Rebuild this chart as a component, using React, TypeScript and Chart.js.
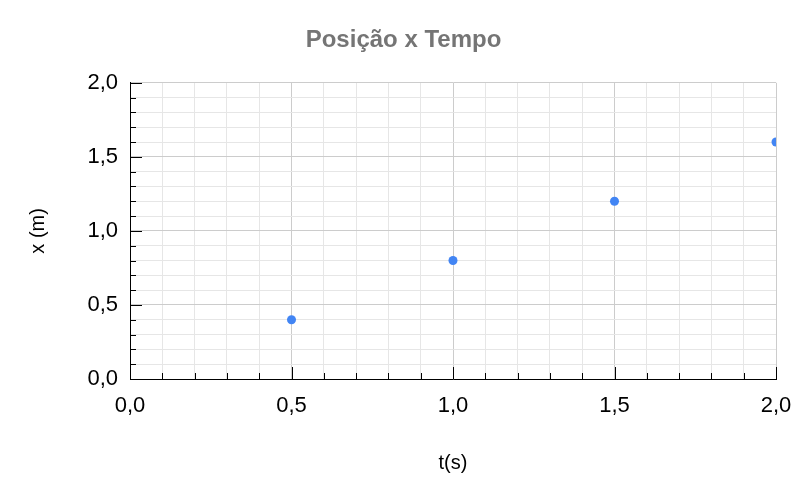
import React, { useEffect, useRef } from "react";
import { Chart, registerables } from "chart.js";

Chart.register(...registerables);

const tempo = [0.5, 1.0, 1.5, 2.0];
const posicao = [0.4, 0.8, 1.2, 1.6];
const axisMin = 0;
const axisMax = 2;
const minorStep = 0.1;
const majorStep = 0.5;

const fmt = (v: number) => v.toFixed(1).replace(".", ",");
const isMajor = (v: number) => Math.abs(v / majorStep - Math.round(v / majorStep)) < 1e-6;

const innerTicks = {
  id: "innerTicks",
  afterDraw(chart: any) {
    const { ctx, chartArea, scales } = chart;
    ctx.save();
    ctx.strokeStyle = "#000";
    ctx.lineWidth = 1;
    const xs = scales.x;
    const ys = scales.y;
    xs.ticks.forEach((t: any) => {
      const px = Math.round(xs.getPixelForValue(t.value)) + 0.5;
      const len = isMajor(t.value) ? 12 : 6;
      ctx.beginPath();
      ctx.moveTo(px, chartArea.bottom);
      ctx.lineTo(px, chartArea.bottom - len);
      ctx.stroke();
    });
    ys.ticks.forEach((t: any) => {
      const py = Math.round(ys.getPixelForValue(t.value)) + 0.5;
      const len = isMajor(t.value) ? 12 : 6;
      ctx.beginPath();
      ctx.moveTo(chartArea.left, py);
      ctx.lineTo(chartArea.left + len, py);
      ctx.stroke();
    });
    ctx.restore();
  },
};

export default function App() {
  const ref = useRef<HTMLCanvasElement>(null);
  useEffect(() => {
    if (!ref.current) return;
    const font = "'Liberation Sans', Arial, sans-serif";
    const gridColor = (c: any) => (isMajor(c.tick.value) ? "#cccccc" : "#e6e6e6");
    const chart = new Chart(ref.current, {
      type: "scatter",
      data: {
        datasets: [
          {
            label: "x(t)",
            data: tempo.map((t, i) => ({ x: t, y: posicao[i] })),
            backgroundColor: "#4285f4",
            borderColor: "#4285f4",
            borderWidth: 0,
            pointRadius: 4.5,
          },
        ],
      },
      options: {
        animation: false,
        responsive: false,
        layout: { padding: 0 },
        plugins: {
          legend: { display: false },
          tooltip: { enabled: false },
          title: {
            display: true,
            text: "Posição x Tempo",
            color: "#757575",
            font: { family: font, size: 24, weight: "bold" },
            padding: { top: 26, bottom: 28 },
          },
        },
        scales: {
          x: {
            type: "linear",
            min: axisMin,
            max: axisMax,
            afterFit: (s: any) => {
              s.height = 120;
            },
            ticks: {
              stepSize: minorStep,
              autoSkip: false,
              maxRotation: 0,
              padding: 14,
              color: "#000",
              font: { family: font, size: 22 },
              callback: (v: any) => (isMajor(Number(v)) ? fmt(Number(v)) : ""),
            },
            grid: { color: gridColor, drawTicks: false, lineWidth: 1 },
            border: { color: "#000", width: 1 },
            title: {
              display: true,
              text: "t(s)",
              color: "#000",
              font: { family: font, size: 20 },
              padding: { top: 0, bottom: 24 },
            },
          },
          y: {
            type: "linear",
            min: axisMin,
            max: axisMax,
            afterFit: (s: any) => {
              s.width = 130;
            },
            ticks: {
              stepSize: minorStep,
              autoSkip: false,
              padding: 12,
              color: "#000",
              font: { family: font, size: 22 },
              callback: (v: any) => (isMajor(Number(v)) ? fmt(Number(v)) : ""),
            },
            grid: { color: gridColor, drawTicks: false, lineWidth: 1 },
            border: { color: "#000", width: 1 },
            title: {
              display: true,
              text: "x (m)",
              color: "#000",
              font: { family: font, size: 20 },
              padding: { top: 26, bottom: 0 },
            },
          },
          spacer: {
            type: "linear",
            position: "right",
            display: true,
            min: axisMin,
            max: axisMax,
            afterFit: (s: any) => {
              s.width = 31;
            },
            ticks: { display: false },
            grid: { display: false, drawTicks: false },
            border: { display: false },
          },
        },
      },
      plugins: [innerTicks],
    });
    return () => chart.destroy();
  }, []);
  return (
    <div style={{ position: "fixed", left: 0, top: 0, width: 807, height: 499, background: "#fff" }}>
      <canvas ref={ref} width={807} height={499} style={{ display: "block" }} />
    </div>
  );
}
